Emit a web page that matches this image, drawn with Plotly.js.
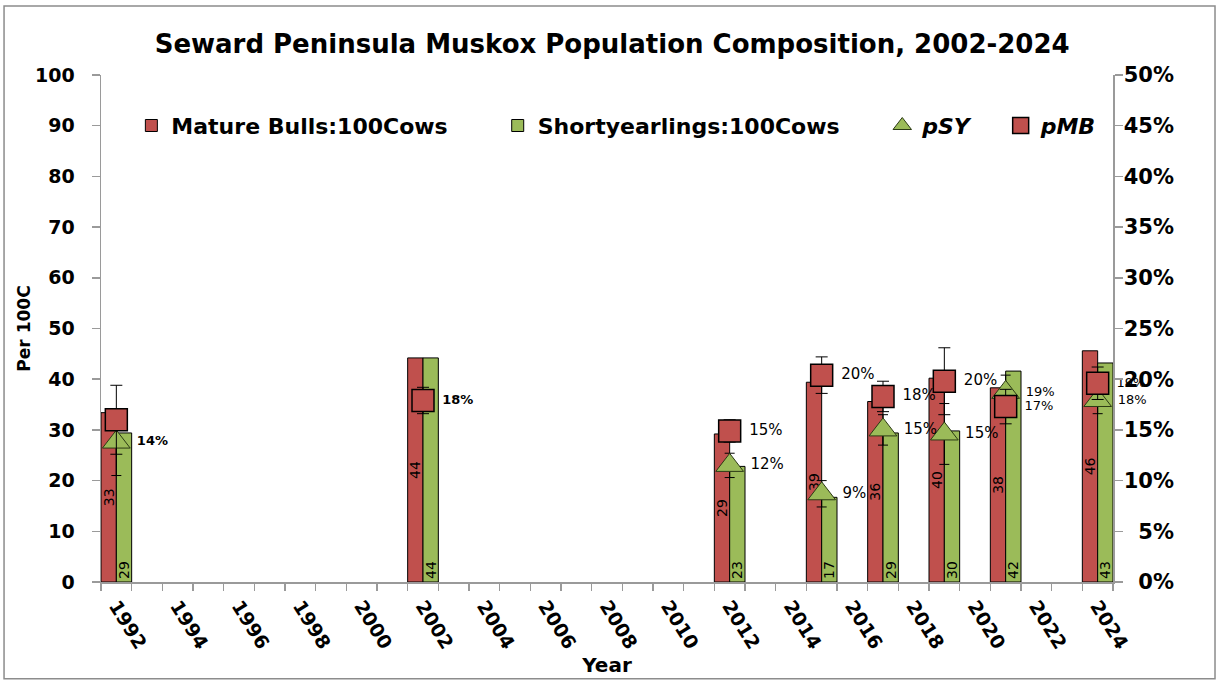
<!DOCTYPE html>
<html>
<head>
<meta charset="utf-8">
<script src="https://cdn.plot.ly/plotly-3.0.1.min.js"></script>
<style>html,body{margin:0;padding:0;background:#fff;}#chart{width:1217px;height:681px;}</style>
</head>
<body>
<div id="chart"></div>
<script>
// ---- data ----
const years = [1992, 2002, 2012, 2015, 2017, 2019, 2021, 2024];
const matureBulls = [33.4, 44.2, 29.2, 39.4, 35.6, 40.2, 38.3, 45.6];
const shortyearlings = [29.4, 44.2, 22.8, 16.7, 29.4, 29.8, 41.6, 43.2];
const pSY = [0.138, null, 0.115, 0.087, 0.150, 0.146, 0.187, 0.179];
const pSYErr = [0.033, null, 0.012, 0.013, 0.015, 0.030, 0.017, 0.013];
const pMB = [0.160, 0.179, 0.149, 0.204, 0.183, 0.198, 0.173, 0.196];
const pMBErr = [0.034, 0.013, 0.011, 0.018, 0.015, 0.033, 0.017, 0.016];
const pSYLabels = ['14%', '', '12%', '9%', '15%', '15%', '19%', '18%'];
const pMBLabels = ['', '18%', '15%', '20%', '18%', '20%', '17%', '19%'];
const labelWeights = ['bold', 'bold', 'normal', 'normal', 'normal', 'normal', 'normal', 'normal'];
const labelSizes = [13, 13, 15, 15, 15, 15, 13, 13];
const rightTickVals = [0, 0.05, 0.10, 0.15, 0.20, 0.25, 0.30, 0.35, 0.40, 0.45, 0.50];
const rightTickText = ['\u20070%', '\u20075%', '10%', '15%', '20%', '25%', '30%', '35%', '40%', '45%', '50%'];

const FONT = 'DejaVu Sans, Verdana, sans-serif';
const RED = '#C0504D', GREEN = '#9BBB59', AXIS = '#9a9a9a';

const traces = [
  {
    type: 'bar', name: 'Mature Bulls:100Cows', legend: 'legend', x: years, y: matureBulls,
    width: 0.5, offset: -0.5,
    marker: {color: RED, line: {color: '#000', width: 1}},
    texttemplate: '%{y:.0f}', textposition: 'inside', insidetextanchor: 'middle',
    textangle: -90, constraintext: 'none',
    textfont: {family: FONT, size: 14, color: '#000'}, hoverinfo: 'skip'
  },
  {
    type: 'bar', name: 'Shortyearlings:100Cows', legend: 'legend2', x: years, y: shortyearlings,
    width: 0.5, offset: 0,
    marker: {color: GREEN, line: {color: '#000', width: 1}},
    texttemplate: '%{y:.0f}', textposition: 'inside', insidetextanchor: 'start',
    textangle: -90, constraintext: 'none',
    textfont: {family: FONT, size: 14, color: '#000'}, hoverinfo: 'skip'
  },
  {
    type: 'scatter', mode: 'markers+text', name: '<i>pSY</i>', legend: 'legend3', x: years, y: pSY, yaxis: 'y2',
    marker: {symbol: 'triangle-up', size: 24, color: GREEN, line: {color: '#2b3a14', width: 1}},
    error_y: {type: 'data', array: pSYErr, visible: true, color: '#000', thickness: 1, width: 5},
    text: pSYLabels, texttemplate: ' %{text}', textposition: 'middle right',
    textfont: {family: FONT, size: labelSizes, color: '#000', weight: labelWeights},
    cliponaxis: false
  },
  {
    type: 'scatter', mode: 'markers+text', name: '<i>pMB</i>', legend: 'legend4', x: years, y: pMB, yaxis: 'y2',
    marker: {symbol: 'square', size: 22, color: RED, line: {color: '#000', width: 1.5}},
    error_y: {type: 'data', array: pMBErr, visible: true, color: '#000', thickness: 1, width: 6},
    text: pMBLabels, texttemplate: ' %{text}', textposition: 'middle right',
    textfont: {family: FONT, size: labelSizes, color: '#000', weight: labelWeights},
    cliponaxis: false
  }
];

const legendFont = {family: FONT, size: 22, color: '#000', weight: 'bold'};
function legendAt(x) {
  return {orientation: 'h', x: x, xanchor: 'left', y: 0.9, yanchor: 'middle',
          font: legendFont, bgcolor: 'rgba(0,0,0,0)'};
}

const layout = {
  width: 1217, height: 681,
  margin: {l: 101, r: 104, t: 75, b: 99, pad: 0},
  paper_bgcolor: '#fff', plot_bgcolor: '#fff',
  barmode: 'overlay', bargap: 0,
  showlegend: true,
  title: {
    text: 'Seward Peninsula Muskox Population Composition, 2002-2024',
    font: {family: FONT, size: 26, color: '#000', weight: 'bold'},
    x: 0.503, xanchor: 'center', y: 0.935, yanchor: 'middle'
  },
  legend: legendAt(0.030),
  legend2: legendAt(0.392),
  legend3: legendAt(0.772),
  legend4: legendAt(0.889),
  xaxis: {
    type: 'linear', range: [1991.5, 2024.5], tick0: 1992, dtick: 2,
    ticks: '', tickangle: 58, ticklabelstandoff: 4,
    tickfont: {family: FONT, size: 19, color: '#000', weight: 'bold'},
    showgrid: false, zeroline: false, showline: true, linecolor: AXIS, linewidth: 1.5,
    minor: {tick0: 1991.5, dtick: 1, ticks: 'outside', ticklen: 7, tickcolor: AXIS, tickwidth: 1.5, showgrid: false},
    title: {text: 'Year', font: {family: FONT, size: 20, color: '#000', weight: 'bold'}, standoff: 5},
    automargin: false
  },
  yaxis: {
    range: [0, 100], dtick: 10, ticks: 'outside', ticklen: 8, tickcolor: AXIS, tickwidth: 1.5,
    ticklabelstandoff: 13,
    tickfont: {family: FONT, size: 19, color: '#000', weight: 'bold'},
    showgrid: false, zeroline: false, showline: true, linecolor: AXIS, linewidth: 1.5,
    title: {text: 'Per 100C', font: {family: FONT, size: 17, color: '#000', weight: 'bold'}, standoff: 0},
    automargin: false
  },
  yaxis2: {
    overlaying: 'y', side: 'right', range: [0, 0.5],
    tickmode: 'array', tickvals: rightTickVals, ticktext: rightTickText,
    ticks: 'outside', ticklen: 8, tickcolor: AXIS, tickwidth: 1.5, ticklabelstandoff: -3,
    tickfont: {family: FONT, size: 21, color: '#000', weight: 'bold'},
    showgrid: false, zeroline: false, showline: true, linecolor: AXIS, linewidth: 1.5,
    automargin: false
  },
  shapes: [{
    type: 'rect', xref: 'paper', yref: 'paper',
    x0: -0.0958, x1: 1.1008, y0: -0.191, y1: 1.136,
    line: {color: '#8c8c8c', width: 1.5}, fillcolor: 'rgba(0,0,0,0)', layer: 'below'
  }]
};

Plotly.newPlot('chart', traces, layout, {displayModeBar: false, staticPlot: true});
</script>
</body>
</html>
